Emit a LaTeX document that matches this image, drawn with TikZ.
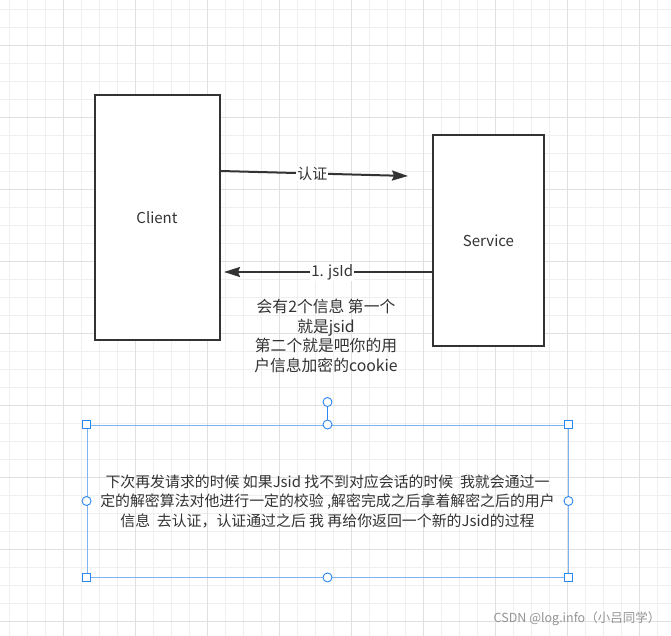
\documentclass[tikz,border=0pt]{standalone}
\usepackage{fontspec}
\setmainfont{Noto Sans CJK SC}
\usepackage{tikz}
\usetikzlibrary{arrows.meta}

\definecolor{inkgray}{HTML}{333333}
\definecolor{gridminor}{HTML}{EFEFEF}
\definecolor{gridmajor}{HTML}{E0E0E0}
\definecolor{selline}{HTML}{7FB2F0}
\definecolor{selhandle}{HTML}{2A86F0}

\tikzset{
  actor/.style={draw=inkgray, line width=2pt, text=inkgray, font=\fontsize{15}{18}\selectfont},
  msg/.style={draw=inkgray, line width=2pt, -{Stealth[length=16pt,width=10pt,inset=2pt]}},
  msglabel/.style={fill=white, text=inkgray, inner sep=1pt, font=\fontsize{15}{18}\selectfont},
  handlesq/.style={draw=selhandle, fill=white, line width=0.9pt, minimum size=8pt, inner sep=0pt},
  handleci/.style={draw=selhandle, fill=white, line width=0.9pt, circle, minimum size=9pt, inner sep=0pt},
}

\begin{document}
\begin{tikzpicture}[x=1pt,y=-1pt]
    \useasboundingbox (0,0) rectangle (671,636);
    \fill[white] (0,0) rectangle (671,636);

    % Draw the background grid
    \foreach \g in {0,...,37}
        \draw[gridminor, line width=0.8pt] (9.3+18*\g,0) -- (9.3+18*\g,636);
    \foreach \g in {0,...,35}
        \draw[gridminor, line width=0.8pt] (0,9.3+18*\g) -- (671,9.3+18*\g);
    \foreach \g in {0,...,8}
        \draw[gridmajor, line width=0.8pt] (63.3+72*\g,0) -- (63.3+72*\g,636);
    \foreach \g in {0,...,8}
        \draw[gridmajor, line width=0.8pt] (0,45+72*\g) -- (671,45+72*\g);

    % Client and Service boxes
    \node[actor, fill=white, minimum width=125pt, minimum height=245pt] (client) at (157,217.5) {Client};
    \node[actor, fill=white, minimum width=111pt, minimum height=211pt] (service) at (488.5,240.5) {Service};

    % Free ends of the two messages
    \coordinate (authend) at (408,176);
    \coordinate (jsidend) at (224,272);

    % Messages between the boxes
    \draw[msg] (client.east |- 0,171) -- (authend)
        node[msglabel, pos=0.49] (authlabel) {认证};
    \draw[msg] (service.west |- 0,272) -- (jsidend)
        node[msglabel, pos=0.48] (jsidlabel) {1. jsId};

    % Note under the return message
    \node[text=inkgray, align=center, font=\fontsize{15.8}{19.7}\selectfont] (note) at (326,336)
        {会有2个信息 第一个\\就是jsid\\第二个就是吧你的用\\户信息加密的cookie};

    % Selected text box with its handles
    \node[draw=selline, line width=0.9pt, minimum width=481pt, minimum height=152pt,
          text=inkgray, align=center, font=\fontsize{14.9}{19.5}\selectfont] (textbox) at (327.5,501)
        {下次再发请求的时候 如果Jsid 找不到对应会话的时候\ \ 我就会通过一\\
         定的解密算法对他进行一定的校验 ,解密完成之后拿着解密之后的用户\\
         信息\ \ 去认证，认证通过之后 我 再给你返回一个新的Jsid的过程};
    \node[handleci] (rotate) at (327.5,402) {};
    \draw[selhandle, line width=0.9pt] (rotate) -- (textbox.north);
    \foreach \a in {north west,north east,south west,south east}
        \node[handlesq] at (textbox.\a) {};
    \foreach \a in {north,south,west,east}
        \node[handleci] at (textbox.\a) {};

    % Watermark
    \node[text=black!42, font=\fontsize{12.5}{14}\selectfont] (mark) at (577,619) {CSDN @log.info（小吕同学）};
\end{tikzpicture}
\end{document}
